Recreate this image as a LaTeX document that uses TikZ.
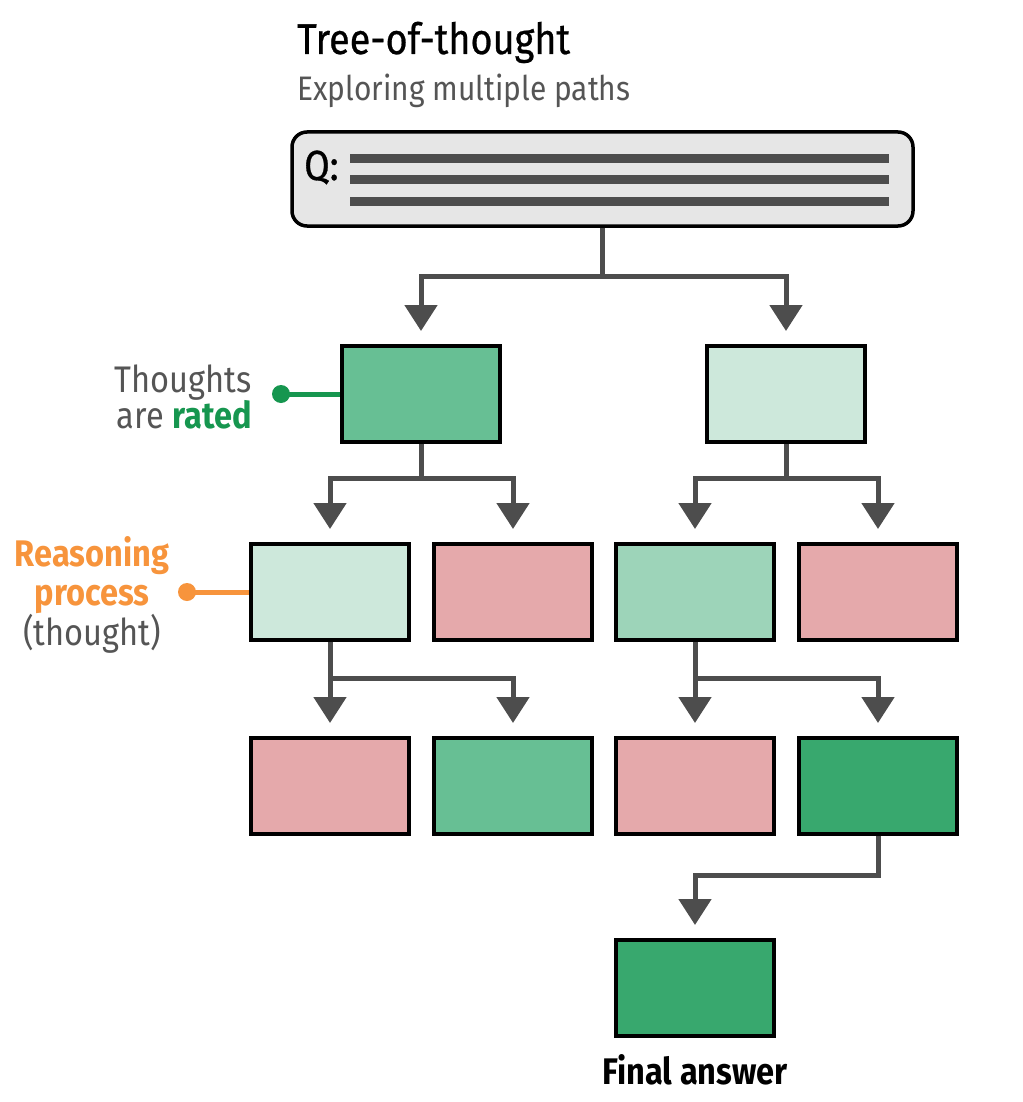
\documentclass[tikz,border=0pt]{standalone}
\usepackage{fontspec}
\setmainfont{Fira Sans}[FakeStretch=0.88]
\usepackage{xcolor}
\usetikzlibrary{arrows.meta, positioning}
\definecolor{linkgray}{HTML}{4D4D4D}
\definecolor{labelgray}{HTML}{555555}
\definecolor{qfill}{HTML}{E6E6E6}
\definecolor{tlight}{HTML}{CDE8DB}
\definecolor{tmid}{HTML}{9DD4B9}
\definecolor{tgreen}{HTML}{67BF94}
\definecolor{tdark}{HTML}{38A86E}
\definecolor{tpink}{HTML}{E5A9AB}
\definecolor{ratedgreen}{HTML}{16964F}
\definecolor{reasonorange}{HTML}{F7943C}
\tikzset{
    thought/.style={draw=black, line width=4pt, fill=#1, minimum width=158pt, minimum height=96pt, inner sep=0pt},
    qbox/.style={draw=black, line width=3.5pt, fill=qfill, rounded corners=15pt, minimum width=621pt, minimum height=94pt},
    qline/.style={linkgray, line width=9pt},
    flow/.style={draw=linkgray, line width=5pt, -{Triangle[width=32pt,length=26pt]}, shorten >=13pt},
    pin line/.style={line width=5pt},
    every node/.style={inner sep=0pt, font=\fontsize{37}{36}\selectfont}
}

\begin{document}
\begin{tikzpicture}[x=1pt, y=-1pt]
    \useasboundingbox[fill=white] (0,0) rectangle (1022,1102);
    % heading
    \node[anchor=base west, font=\fontsize{43}{43}\selectfont\addfontfeature{FakeBold=0.6}] (title) at (297,54) {Tree-of-thought};
    \node[anchor=base west, font=\fontsize{34}{34}\selectfont, labelgray] (subtitle) at (297,101) {Exploring multiple paths};

    % question
    \node[qbox] (q) at (602.5,179) {};
    \node[anchor=base west, font=\fontsize{42}{42}\selectfont\addfontfeature{FakeBold=0.8}] (qlabel) at (304,180) {Q:};
    \foreach \y in {159,180,201}
        \draw[qline] (350,\y) -- (889,\y);

    % thoughts
    \node[thought=tgreen] (t1a) at (421,394) {};
    \node[thought=tlight] (t1b) at (786,394) {};
    \node[thought=tlight] (t2a) at (330,592) {};
    \node[thought=tpink, right=21pt of t2a] (t2b) {};
    \node[thought=tmid, right=20pt of t2b] (t2c) {};
    \node[thought=tpink, right=21pt of t2c] (t2d) {};
    \node[thought=tpink, below=94pt of t2a] (t3a) {};
    \node[thought=tgreen, below=94pt of t2b] (t3b) {};
    \node[thought=tpink, below=94pt of t2c] (t3c) {};
    \node[thought=tdark, below=94pt of t2d] (t3d) {};
    \node[thought=tdark, below=102pt of t3c] (final) {};
    \node[below=16pt of final, font=\fontsize{37}{37}\selectfont\bfseries] (lblfinal) {Final answer};

    % branches
    \coordinate (j0) at (q.south |- 0,276);
    \draw[flow] (q.south) -- (j0) -| (t1a.north);
    \draw[flow] (j0) -| (t1b.north);
    \coordinate (j1a) at (t1a.south |- 0,478);
    \draw[flow] (t1a.south) -- (j1a) -| (t2a.north);
    \draw[flow] (j1a) -| (t2b.north);
    \coordinate (j1b) at (t1b.south |- 0,478);
    \draw[flow] (t1b.south) -- (j1b) -| (t2c.north);
    \draw[flow] (j1b) -| (t2d.north);
    \coordinate (j2a) at (t2a.south |- 0,678);
    \draw[flow] (t2a.south) -- (t3a.north);
    \draw[flow] (j2a) -| (t3b.north);
    \coordinate (j2c) at (t2c.south |- 0,678);
    \draw[flow] (t2c.south) -- (t3c.north);
    \draw[flow] (j2c) -| (t3d.north);
    \coordinate (j3d) at (t3d.south |- 0,875);
    \draw[flow] (t3d.south) -- (j3d) -| (final.north);

    % side labels
    \node[anchor=base east, align=right, labelgray] (lblrated) at (252,428) {Thoughts\\are \textcolor{ratedgreen}{\bfseries rated}};
    \coordinate (dotrated) at (281,394);
    \draw[pin line, ratedgreen] (dotrated) -- (t1a.west);
    \fill[ratedgreen] (dotrated) circle (9pt);
    \node[anchor=base, align=center, labelgray, font=\fontsize{37}{39.5}\selectfont] (lblreason) at (92,645) {\textcolor{reasonorange}{\bfseries Reasoning}\\\textcolor{reasonorange}{\bfseries process}\\(thought)};
    \coordinate (dotreason) at (187,592);
    \draw[pin line, reasonorange] (dotreason) -- (t2a.west);
    \fill[reasonorange] (dotreason) circle (9pt);
\end{tikzpicture}
\end{document}
